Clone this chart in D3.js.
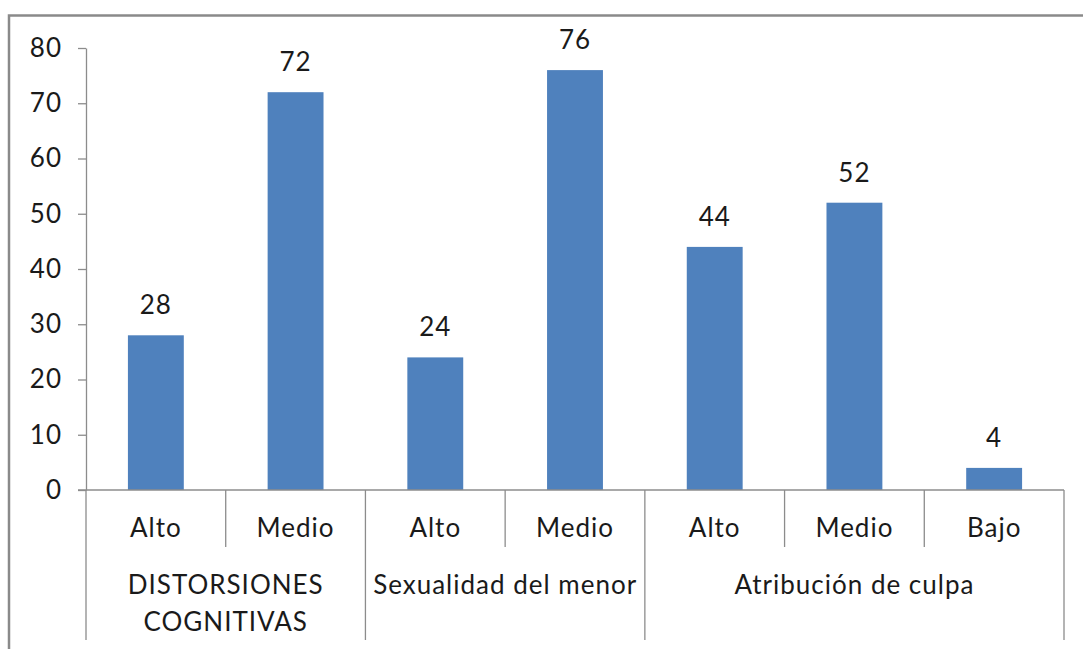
<!DOCTYPE html>
<html lang="es">
<head>
<meta charset="utf-8">
<title>Distorsiones cognitivas</title>
<script src="https://cdn.jsdelivr.net/npm/d3@7"></script>
<style>
body { margin: 0; background: #fff; }
text { font-family: Lato, "Open Sans", sans-serif; font-size: 26px; letter-spacing: 1px; fill: #1a1a1a; }
</style>
</head>
<body>
<script>
// data
var levels = ["Alto", "Medio", "Alto", "Medio", "Alto", "Medio", "Bajo"];
var values = [28, 72, 24, 76, 44, 52, 4];
var groupNames = [["DISTORSIONES", "COGNITIVAS"], ["Sexualidad del menor"], ["Atribución de culpa"]];
var groupSizes = [2, 2, 3];
var yTicks = [0, 10, 20, 30, 40, 50, 60, 70, 80];

var w = 1083, h = 649;
var plotL = 86, plotR = 1064, plotT = 48, base = 490;
var lineColor = "#8c8c8c";

var svg = d3.select("body").append("svg")
    .attr("width", w)
    .attr("height", h);

// frame
svg.append("path")
    .attr("d", "M9,649V15.5H1083")
    .attr("fill", "none")
    .attr("stroke", "#8a8a8a")
    .attr("stroke-width", 2.5);

var idx = d3.range(values.length);

var x = d3.scaleBand()
    .domain(idx)
    .range([plotL, plotR])
    .paddingInner(0.6)
    .paddingOuter(0.3);

var step = x.step();

var y = d3.scaleLinear()
    .domain([0, 80])
    .range([base, plotT]);

// y axis
var yAxis = d3.axisLeft(y)
    .tickValues(yTicks)
    .tickSize(8)
    .tickPadding(16)
    .tickSizeOuter(0);

var gy = svg.append("g")
    .attr("transform", "translate(" + plotL + ",0)")
    .call(yAxis);
gy.select(".domain").attr("stroke", lineColor).attr("stroke-width", 1.3);
gy.selectAll(".tick line").attr("stroke", lineColor).attr("stroke-width", 1.3);
gy.selectAll(".tick text")
    .attr("font-family", null)
    .attr("font-size", null)
    .attr("fill", "#1a1a1a");
gy.attr("font-family", null).attr("font-size", null);

// bars
svg.selectAll("rect.bar")
    .data(values)
    .enter()
    .append("rect")
    .attr("class", "bar")
    .attr("x", function(d, i) { return x(i); })
    .attr("y", function(d) { return y(d); })
    .attr("width", x.bandwidth())
    .attr("height", function(d) { return y(0) - y(d); })
    .attr("fill", "#4f81bd");

// value labels
svg.selectAll("text.val")
    .data(values)
    .enter()
    .append("text")
    .attr("class", "val")
    .attr("x", function(d, i) { return x(i) + x.bandwidth() / 2; })
    .attr("y", function(d) { return y(d) - 21; })
    .attr("text-anchor", "middle")
    .text(function(d) { return d; });

// baseline
svg.append("line")
    .attr("x1", plotL - 8).attr("x2", plotR)
    .attr("y1", base).attr("y2", base)
    .attr("stroke", lineColor).attr("stroke-width", 1.3);

// category separators
var starts = [0];
groupSizes.forEach(function(s, i) { starts.push(starts[i] + s); });

idx.concat([values.length]).forEach(function(i) {
    var xx = plotL + i * step;
    var isGroup = starts.indexOf(i) >= 0;
    svg.append("line")
        .attr("x1", xx).attr("x2", xx)
        .attr("y1", base).attr("y2", isGroup ? 640 : 547)
        .attr("stroke", lineColor).attr("stroke-width", 1.3);
});

// level labels
svg.selectAll("text.lvl")
    .data(levels)
    .enter()
    .append("text")
    .attr("class", "lvl")
    .attr("x", function(d, i) { return plotL + (i + 0.5) * step; })
    .attr("y", 537)
    .attr("text-anchor", "middle")
    .text(function(d) { return d; });

// group labels
groupNames.forEach(function(lines, g) {
    var cx = plotL + (starts[g] + groupSizes[g] / 2) * step;
    var t = svg.append("text")
        .attr("text-anchor", "middle")
        .attr("x", cx)
        .attr("y", 594);
    lines.forEach(function(l, k) {
        t.append("tspan")
            .attr("x", cx)
            .attr("dy", k === 0 ? 0 : 37)
            .text(l);
    });
});
</script>
</body>
</html>
